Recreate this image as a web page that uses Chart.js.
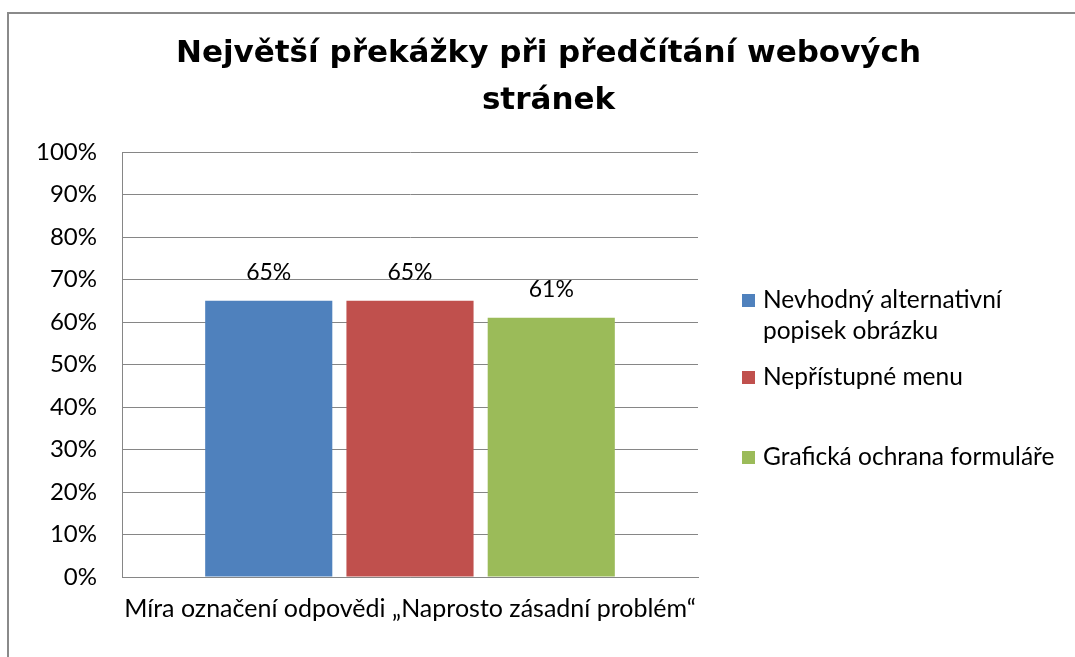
<!DOCTYPE html>
<html>
<head>
<meta charset="utf-8">
<script src="https://cdn.jsdelivr.net/npm/chart.js@4/dist/chart.umd.min.js"></script>
<style>
    html, body { margin: 0; padding: 0; background: #fff; overflow: hidden; }
    #wrap { position: relative; width: 1075px; height: 657px; }
    #frame {
        position: absolute; left: 7px; top: 12px; width: 1200px; height: 800px;
        border-left: 2px solid #8a8a8a; border-top: 2px solid #8a8a8a;
        pointer-events: none;
    }
</style>
</head>
<body>
<div id="wrap">
    <canvas id="chart" width="1075" height="657"></canvas>
    <div id="frame"></div>
</div>
<script>
const categories = ["Míra označení odpovědi „Naprosto zásadní problém“"];
const seriesNames = [
    "Nevhodný alternativní popisek obrázku",
    "Nepřístupné menu",
    "Grafická ochrana formuláře",
];
const seriesValues = [[65], [65], [61]];
const seriesColors = ["#4f81bd", "#c0504d", "#9bbb59"];
const yTicks = [0, 10, 20, 30, 40, 50, 60, 70, 80, 90, 100];

const gridColor = "#868686";
const textFont = "Lato";

const datasets = seriesNames.map(function (name, i) {
    return {
        label: name,
        data: seriesValues[i],
        backgroundColor: seriesColors[i],
        borderWidth: 0,
        categoryPercentage: 0.7357,
        barPercentage: 0.9,
    };
});

// value labels above the bars
const valueLabels = {
    id: "valueLabels",
    afterDatasetsDraw: function (chart) {
        const ctx = chart.ctx;
        ctx.save();
        ctx.font = "23px " + textFont;
        ctx.fillStyle = "#000";
        ctx.textAlign = "center";
        ctx.textBaseline = "middle";
        chart.data.datasets.forEach(function (ds, i) {
            chart.getDatasetMeta(i).data.forEach(function (bar, j) {
                ctx.fillText(ds.data[j] + "%", bar.x, bar.y - 28);
            });
        });
        ctx.restore();
    },
};

// legend on the right with wrapped text, like the Excel one
const sideLegend = {
    id: "sideLegend",
    afterDraw: function (chart) {
        const ctx = chart.ctx;
        const rows = [300, 377, 457];
        const x = chart.chartArea.right + 44;
        const maxW = 300;
        ctx.save();
        ctx.font = "24.5px " + textFont;
        ctx.textBaseline = "middle";
        ctx.textAlign = "left";
        chart.data.datasets.forEach(function (ds, i) {
            const words = ds.label.split(" ");
            const lines = [];
            let cur = "";
            words.forEach(function (w) {
                const t = cur ? cur + " " + w : w;
                if (cur && (ctx.measureText(t).width > maxW || (i === 0 && lines.length === 0 && w === "popisek"))) {
                    lines.push(cur);
                    cur = w;
                } else {
                    cur = t;
                }
            });
            lines.push(cur);
            ctx.fillStyle = ds.backgroundColor;
            ctx.fillRect(x, rows[i] - 6, 13, 13);
            ctx.fillStyle = "#000";
            lines.forEach(function (ln, k) {
                ctx.fillText(ln, x + 21, rows[i] + k * 31);
            });
        });
        ctx.restore();
    },
};

const config = {
    type: "bar",
    data: {
        labels: categories,
        datasets: datasets,
    },
    options: {
        responsive: false,
        animation: false,
        layout: {
            padding: { left: 22, right: 0, top: 0, bottom: 0 },
        },
        scales: {
            x: {
                grid: { display: false, drawTicks: false },
                border: { display: true, color: gridColor, width: 1 },
                ticks: {
                    color: "#000",
                    padding: 17,
                    maxRotation: 0,
                    font: { family: textFont, size: 25 },
                },
                afterFit: function (scale) {
                    scale.height = 80;
                },
            },
            y: {
                min: 0,
                max: 100,
                afterBuildTicks: function (scale) {
                    scale.ticks = yTicks.map(function (v) { return { value: v }; });
                },
                grid: { color: gridColor, lineWidth: 1, drawTicks: false },
                border: { display: true, color: gridColor, width: 1 },
                ticks: {
                    color: "#000",
                    padding: 25,
                    font: { family: textFont, size: 24 },
                    callback: function (v) { return v + "%"; },
                },
                afterFit: function (scale) {
                    scale.width = 100;
                },
            },
            spacer: {
                type: "linear",
                position: "right",
                min: 0,
                max: 1,
                grid: { display: false, drawTicks: false },
                border: { display: false },
                ticks: { display: false },
                afterFit: function (scale) {
                    scale.width = 377;
                },
            },
        },
        plugins: {
            legend: { display: false },
            tooltip: { enabled: false },
            title: {
                display: true,
                text: ["Největší překážky při předčítání webových", "stránek"],
                color: "#000",
                font: { family: "DejaVu Sans", size: 31, weight: "bold", lineHeight: 1.5 },
                padding: { top: 31, bottom: 28 },
            },
        },
    },
    plugins: [valueLabels, sideLegend],
};

var chart = new Chart(document.getElementById("chart"), config);
</script>
</body>
</html>
